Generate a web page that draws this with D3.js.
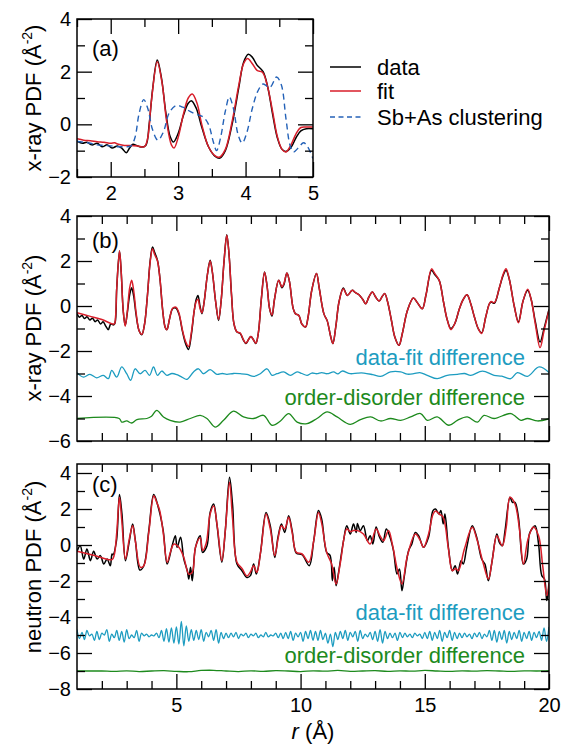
<!DOCTYPE html>
<html><head><meta charset="utf-8">
<script src="https://cdn.jsdelivr.net/npm/d3@7"></script>
<style>
body{margin:0;background:#fff}
svg{display:block}
text{font-family:"Liberation Sans",Arial,Helvetica,sans-serif;fill:#000}
</style>
</head><body>
<svg id="chart" width="570" height="746"></svg>
<script>
// ---------- Panel (a): x-ray PDF, 1.5-5 A ----------
const dataA = [[1.5,-0.64],[1.58,-0.72],[1.65,-0.68],[1.72,-0.78],[1.8,-0.72],[1.87,-0.85],[1.95,-0.78],[2.02,-0.9],[2.1,-0.82],[2.17,-0.92],[2.23,-1.08],[2.28,-0.9],[2.33,-0.76],[2.38,-0.8],[2.45,-0.86],[2.52,-0.8],[2.57,0.0],[2.62,1.3],[2.69,2.44],[2.75,1.8],[2.82,0.4],[2.88,-0.45],[2.93,-0.67],[3.0,-0.35],[3.08,0.35],[3.15,0.8],[3.2,0.89],[3.27,0.6],[3.35,-0.1],[3.45,-0.85],[3.55,-1.22],[3.62,-1.28],[3.7,-1.0],[3.8,0.0],[3.9,1.4],[3.97,2.35],[4.04,2.66],[4.1,2.55],[4.17,2.25],[4.26,2.0],[4.33,1.4],[4.4,0.4],[4.47,-0.5],[4.54,-0.95],[4.6,-1.03],[4.68,-0.85],[4.75,-0.5],[4.82,-0.25],[4.9,-0.17],[5.0,-0.17]];
const fitA = [[1.5,-0.55],[1.6,-0.6],[1.7,-0.62],[1.8,-0.66],[1.9,-0.68],[2.0,-0.72],[2.06,-0.7],[2.1,-0.75],[2.2,-0.8],[2.3,-0.8],[2.4,-0.82],[2.5,-0.85],[2.55,-0.5],[2.6,0.8],[2.69,2.38],[2.76,1.6],[2.83,0.1],[2.9,-0.78],[2.94,-0.9],[3.0,-0.5],[3.08,0.4],[3.15,1.0],[3.21,1.15],[3.28,0.8],[3.35,0.0],[3.45,-0.85],[3.55,-1.2],[3.61,-1.25],[3.7,-0.95],[3.8,0.1],[3.9,1.5],[3.97,2.3],[4.03,2.5],[4.1,2.3],[4.17,2.05],[4.25,1.98],[4.32,1.5],[4.4,0.5],[4.47,-0.45],[4.54,-0.95],[4.6,-1.05],[4.67,-0.8],[4.75,-0.35],[4.82,-0.12],[4.9,-0.1],[5.0,-0.1]];
const clusterA = [[1.5,-0.65],[1.6,-0.68],[1.7,-0.72],[1.8,-0.78],[1.9,-0.8],[2.0,-0.82],[2.1,-0.85],[2.2,-0.85],[2.3,-0.82],[2.36,-0.5],[2.42,0.4],[2.49,0.94],[2.55,0.6],[2.62,-0.2],[2.7,-0.6],[2.78,-0.3],[2.87,0.45],[2.97,0.71],[3.07,0.65],[3.17,0.5],[3.27,0.38],[3.37,0.28],[3.45,0.0],[3.52,-0.65],[3.57,-1.0],[3.63,-0.5],[3.7,0.5],[3.76,1.04],[3.82,0.6],[3.89,-0.4],[3.95,-0.71],[4.02,-0.3],[4.1,0.6],[4.18,1.25],[4.26,1.53],[4.36,1.4],[4.46,1.8],[4.53,1.5],[4.6,0.2],[4.66,-0.8],[4.71,-1.05],[4.78,-0.9],[4.86,-0.7],[4.92,-0.85],[5.0,-1.3]];

// ---------- Panel (b): x-ray PDF, 1-20 A ----------
const fitB = [[1.0,-0.3],[1.5,-0.45],[2.0,-0.6],[2.5,-0.8],[2.55,-0.5],[2.6,0.8],[2.71,2.44],[2.78,1.5],[2.86,-0.2],[2.94,-0.9],[3.02,-0.3],[3.12,0.8],[3.2,1.14],[3.28,0.7],[3.38,-0.3],[3.5,-1.1],[3.61,-1.26],[3.72,-0.8],[3.83,0.4],[3.95,2.0],[4.04,2.55],[4.12,2.3],[4.24,2.0],[4.34,1.2],[4.45,-0.2],[4.55,-0.95],[4.62,-1.05],[4.72,-0.6],[4.85,-0.1],[4.98,-0.05],[5.1,-0.3],[5.25,-1.1],[5.38,-1.6],[5.49,-1.8],[5.6,-1.2],[5.72,-0.2],[5.8,0.2],[5.87,0.3],[5.95,-0.1],[6.03,-0.3],[6.12,0.2],[6.25,1.4],[6.36,2.0],[6.45,1.5],[6.58,0.2],[6.7,-0.6],[6.8,0.2],[6.92,2.0],[7.03,3.15],[7.12,2.3],[7.22,0.5],[7.32,-0.8],[7.44,-1.15],[7.57,-1.2],[7.7,-1.5],[7.8,-1.65],[7.9,-1.5],[8.0,-1.35],[8.1,-1.5],[8.2,-1.65],[8.3,-1.2],[8.42,0.3],[8.55,1.5],[8.65,0.9],[8.75,-0.1],[8.85,-0.4],[8.95,0.3],[9.12,1.14],[9.25,0.85],[9.33,1.0],[9.45,1.47],[9.55,1.1],[9.7,-0.1],[9.79,-0.34],[9.93,-0.42],[10.05,-0.8],[10.2,-0.93],[10.3,-0.5],[10.45,0.7],[10.64,1.44],[10.75,0.8],[10.94,-0.35],[11.07,-0.65],[11.2,-1.3],[11.3,-1.67],[11.42,-0.9],[11.55,0.2],[11.72,0.77],[11.88,0.47],[12.08,0.7],[12.2,0.6],[12.35,0.5],[12.5,0.3],[12.62,0.1],[12.75,0.4],[12.89,0.62],[13.02,0.4],[13.16,0.22],[13.3,0.45],[13.39,0.55],[13.5,0.2],[13.65,-0.6],[13.8,-1.4],[13.96,-1.75],[14.1,-1.2],[14.3,-0.2],[14.54,0.36],[14.7,0.15],[14.9,-0.12],[15.05,0.5],[15.27,1.65],[15.4,1.45],[15.58,1.14],[15.75,0.2],[15.9,-0.6],[16.05,-1.05],[16.2,-0.8],[16.4,-0.1],[16.55,0.3],[16.7,0.5],[16.85,0.1],[17.0,-0.5],[17.15,-1.0],[17.29,-1.22],[17.45,-0.5],[17.6,0.1],[17.67,0.2],[17.8,0.15],[18.0,0.8],[18.15,1.4],[18.27,1.66],[18.4,1.2],[18.6,0.0],[18.77,-0.75],[18.95,0.2],[19.14,0.75],[19.28,0.3],[19.45,-0.8],[19.64,-1.85],[19.8,-1.1],[20.0,-0.19]];
const dataB = [[1.0,-0.34],[1.1,-0.5],[1.2,-0.42],[1.3,-0.56],[1.4,-0.48],[1.52,-0.62],[1.62,-0.54],[1.73,-0.7],[1.83,-0.62],[1.95,-0.8],[2.05,-0.7],[2.15,-0.88],[2.26,-1.05],[2.36,-0.8],[2.47,-0.84],[2.53,-0.75],[2.6,0.8],[2.71,2.44],[2.78,1.5],[2.86,-0.2],[2.94,-0.86],[3.02,-0.35],[3.12,0.5],[3.2,0.81],[3.28,0.45],[3.38,-0.4],[3.5,-1.1],[3.61,-1.28],[3.72,-0.8],[3.83,0.4],[3.95,2.05],[4.04,2.62],[4.12,2.4],[4.24,2.03],[4.34,1.2],[4.45,-0.2],[4.55,-0.95],[4.62,-1.05],[4.72,-0.6],[4.85,-0.12],[4.98,-0.09],[5.1,-0.35],[5.25,-1.15],[5.38,-1.7],[5.49,-1.93],[5.6,-1.3],[5.72,-0.2],[5.8,0.3],[5.87,0.47],[5.95,0.0],[6.03,-0.34],[6.12,0.2],[6.25,1.4],[6.36,2.03],[6.45,1.5],[6.58,0.2],[6.7,-0.64],[6.8,0.2],[6.92,2.0],[7.03,3.17],[7.12,2.3],[7.22,0.5],[7.32,-0.8],[7.44,-1.16],[7.57,-1.22],[7.7,-1.52],[7.8,-1.67],[7.9,-1.5],[8.0,-1.35],[8.1,-1.5],[8.2,-1.67],[8.3,-1.2],[8.42,0.3],[8.55,1.51],[8.65,0.9],[8.75,-0.1],[8.85,-0.45],[8.95,0.3],[9.12,1.14],[9.25,0.81],[9.33,0.95],[9.45,1.47],[9.55,1.1],[9.7,-0.1],[9.79,-0.34],[9.93,-0.42],[10.05,-0.8],[10.2,-0.93],[10.3,-0.5],[10.45,0.7],[10.64,1.44],[10.75,0.8],[10.94,-0.35],[11.07,-0.65],[11.2,-1.3],[11.3,-1.67],[11.42,-0.9],[11.55,0.2],[11.72,0.8],[11.88,0.47],[12.08,0.7],[12.2,0.6],[12.35,0.5],[12.5,0.3],[12.62,0.1],[12.75,0.4],[12.89,0.62],[13.02,0.4],[13.16,0.22],[13.3,0.45],[13.39,0.55],[13.5,0.2],[13.65,-0.6],[13.8,-1.4],[13.96,-1.75],[14.1,-1.2],[14.3,-0.2],[14.54,0.36],[14.7,0.15],[14.9,-0.12],[15.05,0.5],[15.27,1.59],[15.4,1.4],[15.58,1.14],[15.75,0.2],[15.9,-0.6],[16.05,-1.0],[16.2,-0.8],[16.4,-0.1],[16.55,0.3],[16.7,0.5],[16.85,0.1],[17.0,-0.5],[17.15,-1.0],[17.29,-1.19],[17.45,-0.5],[17.6,0.1],[17.67,0.18],[17.8,0.12],[18.0,0.8],[18.15,1.35],[18.27,1.59],[18.4,1.2],[18.6,0.0],[18.77,-0.71],[18.95,0.2],[19.14,0.7],[19.28,0.3],[19.45,-0.7],[19.64,-1.6],[19.8,-1.0],[20.0,-0.15]];
const diffB = [[1.0,-2.96],[1.26,-3.16],[1.52,-3.04],[1.79,-3.19],[2.06,-3.08],[2.26,-3.23],[2.4,-2.86],[2.6,-3.16],[2.8,-2.71],[3.0,-3.01],[3.16,-3.3],[3.34,-2.79],[3.54,-3.01],[3.74,-2.86],[3.92,-3.08],[4.08,-2.71],[4.24,-3.08],[4.41,-2.89],[4.62,-3.08],[4.82,-3.0],[5.02,-3.05],[5.22,-3.16],[5.42,-3.26],[5.69,-2.93],[5.89,-2.79],[6.09,-3.01],[6.36,-2.83],[6.63,-3.04],[6.85,-3.0],[7.03,-3.04],[7.3,-3.0],[7.57,-3.01],[7.84,-3.04],[8.11,-3.13],[8.38,-3.01],[8.65,-2.79],[8.85,-3.08],[9.05,-3.01],[9.32,-2.93],[9.59,-3.08],[9.86,-2.93],[10.05,-3.0],[10.26,-3.08],[10.45,-2.98],[10.66,-3.01],[10.85,-2.96],[11.07,-3.01],[11.33,-2.93],[11.5,-3.02],[11.67,-2.89],[12.0,-3.01],[12.3,-2.98],[12.55,-2.98],[12.9,-3.05],[13.22,-3.13],[13.62,-2.93],[14.03,-2.93],[14.3,-3.03],[14.56,-3.01],[14.8,-2.96],[15.1,-3.08],[15.5,-3.23],[15.9,-3.08],[16.31,-3.04],[16.6,-3.0],[16.85,-3.08],[17.32,-2.89],[17.79,-3.08],[18.1,-3.12],[18.46,-3.23],[18.73,-2.96],[19.13,-3.13],[19.6,-2.71],[20.0,-2.96]];
const orderB = [[1.0,-5.0],[2.7,-5.0],[2.8,-5.16],[3.0,-5.11],[3.2,-5.2],[3.41,-5.05],[3.81,-5.0],[4.0,-4.9],[4.21,-4.64],[4.48,-4.93],[4.75,-5.08],[5.15,-5.16],[5.56,-5.0],[5.96,-4.86],[6.23,-5.0],[6.56,-5.38],[6.9,-5.08],[7.3,-4.67],[7.7,-4.93],[8.11,-5.0],[8.51,-4.86],[8.85,-5.3],[9.19,-5.11],[9.52,-4.78],[9.86,-5.16],[10.26,-5.23],[10.66,-5.0],[11.07,-4.71],[11.47,-4.93],[12.0,-5.26],[12.41,-5.05],[12.82,-4.93],[13.22,-5.11],[13.62,-5.0],[14.03,-5.08],[14.43,-4.93],[14.83,-4.78],[15.1,-5.08],[15.5,-4.93],[15.97,-5.3],[16.31,-5.08],[16.71,-4.93],[17.12,-5.16],[17.38,-4.86],[17.79,-5.0],[18.46,-4.78],[18.87,-5.08],[19.13,-5.0],[19.54,-5.11],[20.0,-5.01]];

// ---------- Panel (c): neutron PDF, 1-20 A ----------
const fitC = [[1.0,-0.35],[1.7,-0.58],[2.41,-0.81],[2.5,-0.55],[2.6,0.7],[2.71,2.65],[2.8,1.4],[2.95,-0.78],[3.1,0.3],[3.24,1.07],[3.35,0.2],[3.55,-1.24],[3.69,-1.15],[3.89,0.7],[4.09,2.74],[4.2,2.4],[4.33,1.91],[4.47,0.7],[4.63,-0.96],[4.78,-0.3],[4.9,0.05],[5.1,-0.13],[5.3,-0.69],[5.5,-1.61],[5.64,-1.52],[5.77,-0.13],[5.96,0.4],[6.06,-0.3],[6.2,0.1],[6.36,1.72],[6.5,2.17],[6.65,1.0],[6.83,-0.87],[6.97,0.8],[7.14,3.48],[7.26,1.5],[7.44,-0.96],[7.64,-1.3],[7.84,-1.72],[7.98,-1.5],[8.11,-1.15],[8.24,-1.52],[8.4,-0.3],[8.61,1.72],[8.78,0.9],[8.96,-0.59],[9.1,0.4],[9.23,1.07],[9.36,0.89],[9.52,1.54],[9.66,0.7],[9.83,-0.41],[10.06,-0.5],[10.33,-0.96],[10.53,0.24],[10.72,1.81],[10.85,1.2],[11.05,-0.41],[11.25,-1.06],[11.43,-2.17],[11.6,-1.0],[11.86,0.89],[12.0,0.75],[12.13,0.8],[12.3,0.8],[12.53,0.61],[12.8,0.06],[13.04,0.89],[13.2,0.5],[13.34,0.24],[13.54,0.8],[13.7,0.0],[13.9,-1.4],[14.08,-2.17],[14.3,-0.6],[14.62,0.61],[14.8,0.3],[14.95,-0.13],[15.15,0.6],[15.33,1.7],[15.43,1.89],[15.6,1.7],[15.74,1.54],[15.95,-0.2],[16.11,-1.43],[16.25,-1.3],[16.35,-1.43],[16.6,-0.2],[16.91,0.98],[17.1,0.3],[17.35,-1.0],[17.56,-1.89],[17.72,-0.8],[17.9,0.52],[18.12,-0.04],[18.28,1.0],[18.43,2.65],[18.63,2.28],[18.8,1.0],[18.97,-1.06],[19.15,0.3],[19.37,1.0],[19.58,0.52],[19.75,-1.2],[19.91,-2.81],[20.0,-2.1]];
const dataC = [[1.0,-0.35],[1.13,-0.04],[1.27,-0.78],[1.4,-0.22],[1.54,-0.87],[1.67,-0.35],[1.81,-0.78],[1.94,-0.59],[2.08,-1.06],[2.21,-0.78],[2.34,-1.15],[2.41,-0.5],[2.45,-0.55],[2.59,0.24],[2.71,2.8],[2.81,1.72],[2.95,-0.87],[3.11,0.24],[3.24,1.17],[3.35,0.24],[3.53,-1.39],[3.69,-1.15],[3.89,0.8],[4.09,2.8],[4.29,2.0],[4.47,0.8],[4.63,-1.06],[4.83,-0.04],[4.96,0.52],[5.03,-0.13],[5.17,0.43],[5.3,-0.78],[5.44,-1.43],[5.5,-1.89],[5.57,-1.24],[5.64,-1.98],[5.77,-0.13],[5.96,0.52],[6.05,-0.41],[6.23,-0.06],[6.36,1.81],[6.5,2.28],[6.63,1.17],[6.83,-0.96],[6.97,0.8],[7.14,3.76],[7.26,2.28],[7.44,-1.06],[7.64,-1.43],[7.84,-1.8],[7.98,-1.7],[8.11,-1.06],[8.22,-1.61],[8.38,-0.5],[8.61,1.81],[8.78,1.07],[8.96,-0.69],[9.09,0.43],[9.23,1.17],[9.36,0.7],[9.52,1.63],[9.66,0.8],[9.83,-0.46],[10.06,-0.54],[10.35,-1.15],[10.53,0.24],[10.72,1.91],[10.85,1.44],[11.05,-0.41],[11.19,-0.59],[11.28,-1.98],[11.35,-1.24],[11.43,-2.26],[11.52,-1.61],[11.73,0.24],[11.86,1.07],[12.0,0.61],[12.13,1.17],[12.24,0.7],[12.29,1.2],[12.4,0.8],[12.53,1.07],[12.69,0.24],[12.8,0.52],[12.91,0.06],[13.04,1.0],[13.18,0.43],[13.31,0.15],[13.45,0.89],[13.58,0.52],[13.74,-0.31],[13.88,-1.61],[13.98,-1.33],[14.08,-2.54],[14.17,-1.8],[14.35,-0.31],[14.48,0.06],[14.62,0.7],[14.75,0.52],[14.95,-0.13],[15.15,0.43],[15.33,1.91],[15.43,2.0],[15.57,1.72],[15.65,1.91],[15.74,1.17],[15.81,1.72],[15.95,-0.13],[16.11,-1.43],[16.22,-1.15],[16.32,-1.61],[16.46,-0.87],[16.55,-1.06],[16.69,-0.13],[16.91,1.07],[17.09,0.43],[17.29,-0.78],[17.42,-1.06],[17.56,-1.98],[17.69,-1.06],[17.9,0.61],[18.0,0.15],[18.12,-0.04],[18.23,0.8],[18.43,2.65],[18.53,2.37],[18.63,2.37],[18.77,1.54],[18.97,-1.06],[19.1,-0.78],[19.21,0.61],[19.31,0.89],[19.44,1.07],[19.58,0.06],[19.71,-1.7],[19.82,-1.89],[19.91,-3.09],[19.98,-2.54],[20.0,-2.2]];
// data-fit difference (neutron), sampled every 0.1 A from r = 1.0 to 20.0
const diffCvalues = [-4.7,-5.2,-4.85,-5.25,-4.75,-5.05,-4.95,-5.3,-4.8,-5.25,-4.9,-5.0,-4.7,-5.35,-4.95,-5.15,
 -4.75,-5.3,-4.8,-5.4,-4.7,-5.2,-5.0,-5.15,-4.75,-5.35,-4.9,-5.05,-4.95,-5.1,
 -5.0,-5.05,-4.9,-5.15,-4.75,
 -5.35,-4.65,-5.4,-4.6,-5.45,-4.55,-5.5,-4.25,-5.6,-4.5,-5.35,-4.7,-5.3,-4.75,
 -5.25,-4.7,-5.35,-4.85,-5.1,-4.75,-5.3,-4.7,-5.45,-4.85,-5.2,-4.9,
 -5.15,-4.9,-5.1,-4.85,-5.2,-4.95,-5.05,-4.9,-5.15,-4.95,
 -5.05,-4.9,-5.15,-5.0,-5.1,-4.85,-5.1,-5.0,-5.05,-4.9,-5.15,-4.9,-5.2,
 -4.85,-5.2,-4.8,-5.3,-4.9,-5.1,-4.85,-5.35,-4.8,-5.2,-4.75,-5.3,
 -4.8,-5.3,-4.75,-5.25,-4.9,-5.45,-4.95,-5.65,-4.85,-5.25,-4.8,
 -5.2,-4.75,-5.3,-4.85,-5.1,-4.8,-5.35,-4.75,-5.2,-4.95,-5.1,-4.85,-5.25,-4.8,-5.35,-4.7,-5.45,-4.8,-5.2,-4.9,-5.15,-4.9,-5.3,-4.85,
 -5.15,-4.9,-5.1,-4.95,-5.15,-4.9,-5.05,-4.95,-5.2,-4.85,
 -5.2,-4.8,-5.3,-4.85,-5.2,-4.75,-5.35,-4.85,-5.15,-4.75,-5.3,-4.85,-5.2,-4.9,-5.15,
 -4.9,-5.1,-4.95,-5.2,-4.9,-5.1,-4.85,-5.2,-4.95,-5.1,
 -4.75,-5.3,-4.75,-5.4,-4.8,-5.25,-4.75,-5.45,-4.8,-5.25,-4.85,-5.2,-4.75,-5.35,-4.85,
 -5.2,-4.8,-5.3,-4.85,-5.15,-4.8,-5.3,-4.6,-5.35,-4.55];
// order-disorder difference (neutron), sampled every 0.5 A from r = 1.0 to 20.0
const orderCvalues = [-7.0,-7.0,-7.0,-7.02,-6.99,-7.03,-7.0,-6.98,-7.02,-7.04,-6.97,-6.96,-7.0,-7.03,-6.99,-7.02,-6.98,-7.0,-7.03,-6.99,-7.01,-6.97,-7.02,-7.0,-6.98,-7.02,-6.99,-7.01,-6.97,-7.0,-7.02,-6.99,-7.01,-6.98,-7.0,-7.02,-6.99,-7.0,-6.98];

// ---------- tick labels ----------
const xTicksA = [2,3,4,5], xMinorA = [1.5,2.5,3.5,4.5];
const yTicksA = [-2,0,2,4], yMinorA = [-1,1,3];
const xTicksBC = [5,10,15,20], xMinorBC = [2,3,4,6,7,8,9,11,12,13,14,16,17,18,19];
const yTicksB = [-6,-4,-2,0,2,4], yMinorB = [-5,-3,-1,1,3];
const yTicksC = [-8,-6,-4,-2,0,2,4], yMinorC = [-7,-5,-3,-1,1,3];

const COL = {data:"#000000", fit:"#d81e2a", clus:"#2462b8", diff:"#1d9cc0", ord:"#1d8a1d"};

const gridC1 = d3.range(1, 20.0001, 0.1), gridC2 = d3.range(1, 20.0001, 0.5);
const diffC = diffCvalues.map((v,i) => [gridC1[i], v]);
const orderC = orderCvalues.map((v,i) => [gridC2[i], v]);

const svg = d3.select("#chart");
const MAJ = 15, MIN = 8;

function panel(id, box, xd, yd, xt, xm, yt, ym, showXLabels, series) {
  const x = d3.scaleLinear().domain(xd).range([box.l, box.r]);
  const y = d3.scaleLinear().domain(yd).range([box.b, box.t]);
  const g = svg.append("g");
  svg.append("clipPath").attr("id", "clip" + id).append("rect")
    .attr("x", box.l).attr("y", box.t).attr("width", box.r - box.l).attr("height", box.b - box.t);
  const lg = g.append("g").attr("clip-path", `url(#clip${id})`);
  const line = d3.line().x(d => x(d[0])).y(d => y(d[1])).curve(d3.curveCatmullRom.alpha(0.5));
  series.forEach(s => {
    lg.append("path").attr("d", line(s.data)).attr("fill", "none")
      .attr("stroke", s.color).attr("stroke-width", s.w || 1.5)
      .attr("stroke-dasharray", s.dash || null).attr("stroke-linejoin", "round");
  });
  const bMaj = g.append("g").attr("transform", `translate(0,${box.b})`)
    .call(d3.axisBottom(x).tickValues(xt).tickSize(-MAJ).tickPadding(9).tickFormat(showXLabels ? d3.format("d") : ""));
  const bMin = g.append("g").attr("transform", `translate(0,${box.b})`)
    .call(d3.axisBottom(x).tickValues(xm).tickSize(-MIN).tickFormat(""));
  const tMaj = g.append("g").attr("transform", `translate(0,${box.t})`)
    .call(d3.axisTop(x).tickValues(xt).tickSize(-MAJ).tickFormat(""));
  const tMin = g.append("g").attr("transform", `translate(0,${box.t})`)
    .call(d3.axisTop(x).tickValues(xm).tickSize(-MIN).tickFormat(""));
  const lMaj = g.append("g").attr("transform", `translate(${box.l},0)`)
    .call(d3.axisLeft(y).tickValues(yt).tickSize(-MAJ).tickPadding(6).tickFormat(d3.format("d")));
  const lMin = g.append("g").attr("transform", `translate(${box.l},0)`)
    .call(d3.axisLeft(y).tickValues(ym).tickSize(-MIN).tickFormat(""));
  const rMaj = g.append("g").attr("transform", `translate(${box.r},0)`)
    .call(d3.axisRight(y).tickValues(yt).tickSize(-MAJ).tickFormat(""));
  const rMin = g.append("g").attr("transform", `translate(${box.r},0)`)
    .call(d3.axisRight(y).tickValues(ym).tickSize(-MIN).tickFormat(""));
  [bMaj,bMin,tMaj,tMin,lMaj,lMin,rMaj,rMin].forEach(a => {
    a.select(".domain").remove();
    a.selectAll(".tick line").attr("stroke", "#000").attr("stroke-width", 1.3);
    a.selectAll(".tick text").attr("font-size", 20).attr("fill", "#000")
      .attr("font-family", '"Liberation Sans",Arial,Helvetica,sans-serif');
  });
  g.append("rect").attr("x", box.l).attr("y", box.t).attr("width", box.r - box.l).attr("height", box.b - box.t)
    .attr("fill", "none").attr("stroke", "#000").attr("stroke-width", 1.5);
  return {x, y, g};
}

panel("a", {l:77, r:313, t:19, b:177}, [1.5,5], [-2,4], xTicksA, xMinorA, yTicksA, yMinorA, true, [
  {data:dataA, color:COL.data}, {data:fitA, color:COL.fit},
  {data:clusterA, color:COL.clus, dash:"6,4", w:1.4}
]);
panel("b", {l:77, r:549, t:216, b:441}, [1,20], [-6,4], xTicksBC, xMinorBC, yTicksB, yMinorB, false, [
  {data:dataB, color:COL.data}, {data:fitB, color:COL.fit},
  {data:diffB, color:COL.diff, w:1.3}, {data:orderB, color:COL.ord, w:1.3}
]);
panel("c", {l:77, r:549, t:464, b:689}, [1,20], [-8,4.5], xTicksBC, xMinorBC, yTicksC, yMinorC, true, [
  {data:dataC, color:COL.data}, {data:fitC, color:COL.fit},
  {data:diffC, color:COL.diff, w:1.3}, {data:orderC, color:COL.ord, w:1.3}
]);

function txt(x, y, s, opts = {}) {
  return svg.append("text").attr("x", x).attr("y", y).attr("font-size", opts.size || 22)
    .attr("text-anchor", opts.anchor || "start").style("fill", opts.color || "#000").text(s);
}
txt(92, 56, "(a)"); txt(92, 248, "(b)"); txt(92, 492, "(c)");
txt(525, 365, "data-fit difference", {anchor:"end", color:COL.diff});
txt(525, 405, "order-disorder difference", {anchor:"end", color:COL.ord});
txt(525, 620, "data-fit difference", {anchor:"end", color:COL.diff});
txt(525, 663, "order-disorder difference", {anchor:"end", color:COL.ord});

function ylab(cx, cy, main) {
  const t = svg.append("text").attr("transform", `translate(${cx},${cy}) rotate(-90)`)
    .attr("text-anchor", "middle").attr("font-size", 22);
  t.append("tspan").text(main + " (Å");
  t.append("tspan").attr("font-size", 14).attr("dy", -9).text("-2");
  t.append("tspan").attr("dy", 9).text(")");
}
ylab(41, 98, "x-ray PDF");
ylab(41, 328, "x-ray PDF");
ylab(41, 567, "neutron PDF");

const xl = svg.append("text").attr("x", 313).attr("y", 739).attr("text-anchor", "middle").attr("font-size", 22);
xl.append("tspan").attr("font-style", "italic").text("r");
xl.append("tspan").text(" (Å)");

const legendItems = [
  {label:"data", color:COL.data, dash:null, y:67},
  {label:"fit", color:COL.fit, dash:null, y:91},
  {label:"Sb+As clustering", color:COL.clus, dash:"5,3.5", y:117}
];
legendItems.forEach(it => {
  svg.append("line").attr("x1", 330).attr("x2", 361).attr("y1", it.y).attr("y2", it.y)
    .attr("stroke", it.color).attr("stroke-width", 1.5).attr("stroke-dasharray", it.dash);
  txt(377, it.y + 8, it.label);
});
</script>
</body></html>
